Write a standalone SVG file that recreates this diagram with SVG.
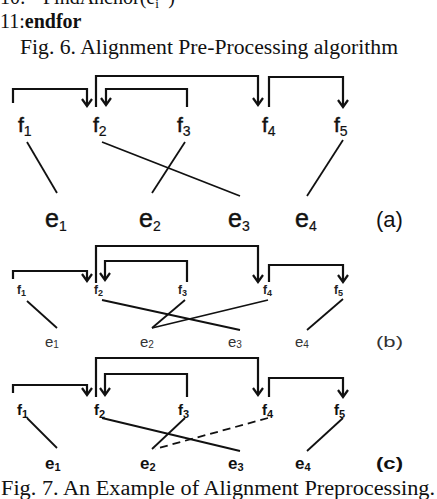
<svg xmlns="http://www.w3.org/2000/svg" width="437" height="499" viewBox="0 0 437 499">
<style>
.cap{font-family:"Liberation Serif","Times New Roman",serif;font-size:20px;fill:#111}
.fa{font-family:"Liberation Sans",Arial,sans-serif;font-size:21px;fill:#111;stroke:#111;stroke-width:0.5}
.ea{font-family:"Liberation Sans",Arial,sans-serif;font-size:25px;fill:#111;stroke:#111;stroke-width:0.5}
.la{font-family:"Liberation Sans",Arial,sans-serif;font-size:22px;fill:#111}
.fb{font-family:"Liberation Sans",Arial,sans-serif;font-size:12px;font-weight:bold;fill:#222}
.eb{font-family:"Liberation Sans",Arial,sans-serif;font-size:15px;fill:#333}
.fc{font-family:"Liberation Sans",Arial,sans-serif;font-size:15px;font-weight:bold;fill:#111}
.ec{font-family:"Liberation Sans",Arial,sans-serif;font-size:17px;font-weight:bold;fill:#111}
.br{fill:none;stroke:#111;stroke-width:2.2}
.ah{fill:none;stroke:#111;stroke-width:2.2;stroke-linejoin:miter}
.ln{stroke:#111;stroke-width:1.8;fill:none}
.dl{stroke:#111;stroke-width:1.8;fill:none;stroke-dasharray:8,5}
</style>
<g id="header">
<text class="cap" x="0" y="4">10:<tspan x="43">FindAnchor(e</tspan><tspan font-size="13" dy="4">i</tspan><tspan font-size="13" dy="-10">f</tspan><tspan dy="6"> )</tspan></text>
<text class="cap" x="0" y="28">11:<tspan font-weight="bold">endfor</tspan></text>
<text class="cap" x="20" y="54" textLength="378" lengthAdjust="spacingAndGlyphs">Fig. 6. Alignment Pre-Processing algorithm</text>
</g>

<!-- Panel (a) -->
<g id="a-f1"><text class="fa" x="18" y="132">f<tspan font-size="14" stroke-width="0.2" dy="4">1</tspan></text></g>
<g id="a-f2"><text class="fa" x="93" y="132">f<tspan font-size="14" stroke-width="0.2" dy="4">2</tspan></text></g>
<g id="a-f3"><text class="fa" x="177" y="132">f<tspan font-size="14" stroke-width="0.2" dy="4">3</tspan></text></g>
<g id="a-f4"><text class="fa" x="262" y="132">f<tspan font-size="14" stroke-width="0.2" dy="4">4</tspan></text></g>
<g id="a-f5"><text class="fa" x="334" y="132">f<tspan font-size="14" stroke-width="0.2" dy="4">5</tspan></text></g>
<g id="a-e1"><text class="ea" x="45" y="227">e<tspan font-size="14" stroke-width="0.2" dy="4">1</tspan></text></g>
<g id="a-e2"><text class="ea" x="139" y="227">e<tspan font-size="14" stroke-width="0.2" dy="4">2</tspan></text></g>
<g id="a-e3"><text class="ea" x="228" y="227">e<tspan font-size="14" stroke-width="0.2" dy="4">3</tspan></text></g>
<g id="a-e4"><text class="ea" x="295" y="227">e<tspan font-size="14" stroke-width="0.2" dy="4">4</tspan></text></g>
<g id="a-label"><text class="la" x="376" y="227">(a)</text></g>

<!-- Panel (b) -->
<g id="b-f1"><text class="fb" x="17" y="294">f<tspan font-size="9" dy="2">1</tspan></text></g>
<g id="b-f2"><text class="fb" x="94" y="294">f<tspan font-size="9" dy="2">2</tspan></text></g>
<g id="b-f3"><text class="fb" x="178" y="294">f<tspan font-size="9" dy="2">3</tspan></text></g>
<g id="b-f4"><text class="fb" x="263" y="294">f<tspan font-size="9" dy="2">4</tspan></text></g>
<g id="b-f5"><text class="fb" x="334" y="294">f<tspan font-size="9" dy="2">5</tspan></text></g>
<g id="b-e1"><text class="eb" x="45" y="347">e<tspan font-size="10" dy="1">1</tspan></text></g>
<g id="b-e2"><text class="eb" x="140" y="347">e<tspan font-size="10" dy="1">2</tspan></text></g>
<g id="b-e3"><text class="eb" x="228" y="347">e<tspan font-size="10" dy="1">3</tspan></text></g>
<g id="b-e4"><text class="eb" x="295" y="347">e<tspan font-size="10" dy="1">4</tspan></text></g>
<g id="b-label"><text class="eb" x="376" y="347" textLength="27" lengthAdjust="spacingAndGlyphs">(b)</text></g>

<!-- Panel (c) -->
<g id="c-f1"><text class="fc" x="17" y="415">f<tspan font-size="11" dy="3">1</tspan></text></g>
<g id="c-f2"><text class="fc" x="94" y="415">f<tspan font-size="11" dy="3">2</tspan></text></g>
<g id="c-f3"><text class="fc" x="178" y="415">f<tspan font-size="11" dy="3">3</tspan></text></g>
<g id="c-f4"><text class="fc" x="262" y="415">f<tspan font-size="11" dy="3">4</tspan></text></g>
<g id="c-f5"><text class="fc" x="334" y="415">f<tspan font-size="11" dy="3">5</tspan></text></g>
<g id="c-e1"><text class="ec" x="45" y="469">e<tspan font-size="11" dy="2">1</tspan></text></g>
<g id="c-e2"><text class="ec" x="140" y="469">e<tspan font-size="11" dy="2">2</tspan></text></g>
<g id="c-e3"><text class="ec" x="228" y="469">e<tspan font-size="11" dy="2">3</tspan></text></g>
<g id="c-e4"><text class="ec" x="295" y="469">e<tspan font-size="11" dy="2">4</tspan></text></g>
<g id="c-label"><text class="ec" x="376" y="469" textLength="27" lengthAdjust="spacingAndGlyphs">(c)</text></g>

<g id="connectors">
<!-- (a) brackets -->
<polyline class="br" points="13,103 13,89 87,89 87,106"/>
<polyline class="ah" points="82,99 87,106 92,99"/>
<polyline class="br" points="96,107 96,76 258,76 258,105"/>
<polyline class="ah" points="253,98 258,105 263,98"/>
<polyline class="br" points="187,107 187,89 106,89 106,105"/>
<polyline class="ah" points="101,98 106,105 111,98"/>
<polyline class="br" points="269,107 269,77 343,77 343,107"/>
<polyline class="ah" points="338,100 343,107 348,100"/>
<!-- (a) alignments -->
<line class="ln" x1="27" y1="142" x2="57" y2="193"/>
<line class="ln" x1="102" y1="142" x2="240" y2="196"/>
<line class="ln" x1="185" y1="142" x2="152" y2="193"/>
<line class="ln" x1="343" y1="140" x2="307" y2="196"/>

<!-- (b) brackets -->
<polyline class="br" points="13,279 13,271 87,271 87,281"/>
<polyline class="ah" points="82,274 87,281 92,274"/>
<polyline class="br" points="96,283 96,246 258,246 258,282"/>
<polyline class="ah" points="253,275 258,282 263,275"/>
<polyline class="br" points="187,282 187,261 105,261 105,280"/>
<polyline class="ah" points="100,273 105,280 110,273"/>
<polyline class="br" points="269,282 269,265 343,265 343,282"/>
<polyline class="ah" points="338,275 343,282 348,275"/>
<!-- (b) alignments -->
<line class="ln" x1="27" y1="301" x2="57" y2="328"/>
<line class="ln" x1="102" y1="300" x2="240" y2="330"/>
<line class="ln" x1="185" y1="300" x2="152" y2="328"/>
<line class="ln" x1="268" y1="300" x2="152" y2="328"/>
<line class="ln" x1="343" y1="299" x2="307" y2="330"/>

<!-- (c) brackets -->
<polyline class="br" points="13,393 13,385 87,385 87,395"/>
<polyline class="ah" points="82,388 87,395 92,388"/>
<polyline class="br" points="96,397 96,358 258,358 258,395"/>
<polyline class="ah" points="253,388 258,395 263,388"/>
<polyline class="br" points="187,397 187,374 105,374 105,395"/>
<polyline class="ah" points="100,388 105,395 110,388"/>
<polyline class="br" points="269,397 269,378 343,378 343,397"/>
<polyline class="ah" points="338,390 343,397 348,390"/>
<!-- (c) alignments -->
<line class="ln" x1="27" y1="418" x2="57" y2="448"/>
<line class="ln" x1="102" y1="418" x2="240" y2="451"/>
<line class="ln" x1="185" y1="418" x2="152" y2="449"/>
<line class="dl" x1="268" y1="418" x2="155" y2="449"/>
<line class="ln" x1="343" y1="418" x2="307" y2="451"/>
</g>

<g id="footer">
<text class="cap" x="1" y="495" textLength="434" lengthAdjust="spacingAndGlyphs">Fig. 7. An Example of Alignment Preprocessing.</text>
</g>
</svg>
